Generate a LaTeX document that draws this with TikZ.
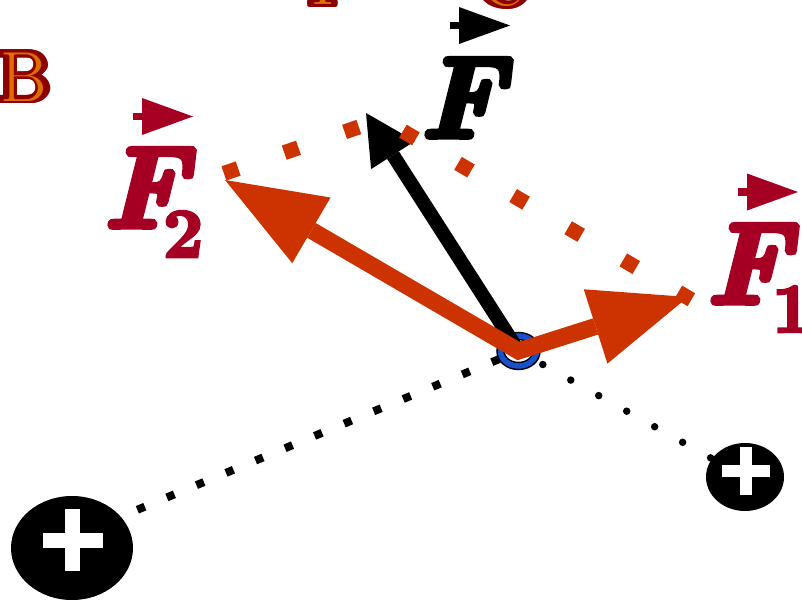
\documentclass[tikz,border=0pt]{standalone}
\usepackage{fontspec}
\usetikzlibrary{arrows.meta,shapes.geometric}
\newfontface\Fheavy[FakeBold=5]{lmroman10-bolditalic.otf}
\newfontface\Dheavy[FakeBold=4]{lmroman10-bold.otf}
\definecolor{fred}{RGB}{165,0,36}
\definecolor{forange}{RGB}{204,51,0}
\definecolor{ringblue}{RGB}{25,80,205}
\definecolor{bdark}{RGB}{140,0,0}
\definecolor{borange}{RGB}{222,110,0}
\tikzset{
  lab/.style={inner sep=0pt, outer sep=0pt, anchor=base west},
  bigF/.style={lab, font=\fontsize{115pt}{115pt}\Fheavy},
  subs/.style={lab, font=\fontsize{70pt}{70pt}\Dheavy},
  vecarrow/.style={line width=7.5pt, arrows={-Triangle[length=51pt,width=37pt,line width=0pt]}},
  charge/.style={ellipse, fill=black, inner sep=0pt},
  blackdotsq/.style={line width=8pt, line cap=rect, dash pattern=on 0.1pt off 31.9pt},
  blackdotrd/.style={line width=7.5pt, line cap=round, dash pattern=on 0pt off 32pt},
  orangedots/.style={draw=forange, line width=15pt, line cap=rect, dash pattern=on 0.1pt off 63.7pt},
  ptlab/.style={inner sep=0pt, outer sep=0pt, anchor=base, font=\fontsize{71pt}{71pt}\selectfont},
}
\newcommand\outlinedletter[3]{% name, position (x,y without parens), letter
  \coordinate (#1pos) at (#2);
  \foreach \a in {0,30,...,330}{%
    \node[ptlab, text=bdark, font=\fontsize{71pt}{71pt}\selectfont\bfseries] (#1o\a) at ([shift={(\a:2.5)}]#1pos) {#3};}
  \node[ptlab, text=bdark, font=\fontsize{71pt}{71pt}\selectfont\bfseries] (#1b) at (#1pos) {#3};
  \node[ptlab, text=borange] (#1) at (#1pos) {#3};
}
\begin{document}
\begin{tikzpicture}[x=1pt,y=-1pt]
\useasboundingbox (0,0) rectangle (802,602);
% key points
\coordinate (O) at (518.5,351);
\coordinate (lA) at (72,537);
\coordinate (rA) at (745,477);
\coordinate (T2) at (225,180);
\coordinate (T1) at (688,297);
\coordinate (TR) at (366,113);
\coordinate (P2) at (231,171);
\coordinate (R) at (382,119);
\coordinate (P1) at (685,296);
% black dotted lines to the charges
\draw[blackdotsq, dash phase=7.2pt] (O) -- (lA);
\draw[blackdotrd, dash phase=4.2pt] (O) -- (rA);
% charges
\node[charge, minimum width=122pt, minimum height=104pt] (qL) at (72,548) {};
\node[charge, minimum width=78pt, minimum height=68pt] (qR) at (745,477) {};
\coordinate (pL) at (72.5,540);
\coordinate (pR) at (746,471);
\fill[white] ([shift={(-30,-7.5)}]pL) rectangle ([shift={(30,7.5)}]pL);
\fill[white] ([shift={(-7.5,-31)}]pL) rectangle ([shift={(7.5,31)}]pL);
\fill[white] ([shift={(-24,-6)}]pR) rectangle ([shift={(24,6)}]pR);
\fill[white] ([shift={(-6,-24)}]pR) rectangle ([shift={(6,24)}]pR);
% ring at the point
\fill[white] (O) ellipse [x radius=18.5, y radius=15.5];
\draw[draw=black, line width=1.5pt, double=ringblue, double distance=5.5pt] (O) ellipse [x radius=18, y radius=15];
% resultant
\draw[black, line width=14pt, arrows={-Triangle[length=50pt,width=52pt,line width=0pt]}] (O) -- (TR);
% components
\draw[forange, line width=17pt, line join=miter,
  arrows={Triangle[length=100pt,width=76pt,line width=0pt]-Triangle[length=97pt,width=78pt,line width=0pt]}] (T2) -- (O) -- (T1);
% parallelogram
\draw[orangedots] (P2) -- (R) -- (P1);
% labels
\node[bigF, text=fred] (F2l) at (103,227) {F};
\node[subs, text=fred] (F2s) at (163,257) {2};
\coordinate (a2s) at (133,116.5);
\coordinate (a2e) at (193,116.5);
\draw[vecarrow, fred] (a2s) -- (a2e);
\node[bigF, text=fred] (F1l) at (706,303) {F};
\node[subs, text=fred] (F1s) at (772,332) {1};
\coordinate (a1s) at (738,192);
\coordinate (a1e) at (798,192);
\draw[vecarrow, fred] (a1s) -- (a1e);
\node[bigF, text=black] (FRl) at (420,137) {F};
\coordinate (ars) at (450,25.5);
\coordinate (are) at (510,25.5);
\draw[vecarrow, black] (ars) -- (are);
% point labels (partly outside)
\outlinedletter{labB}{24,101}{B}
\outlinedletter{labI}{323,5}{I}
\outlinedletter{labC}{504,6}{C}
\end{tikzpicture}
\end{document}
